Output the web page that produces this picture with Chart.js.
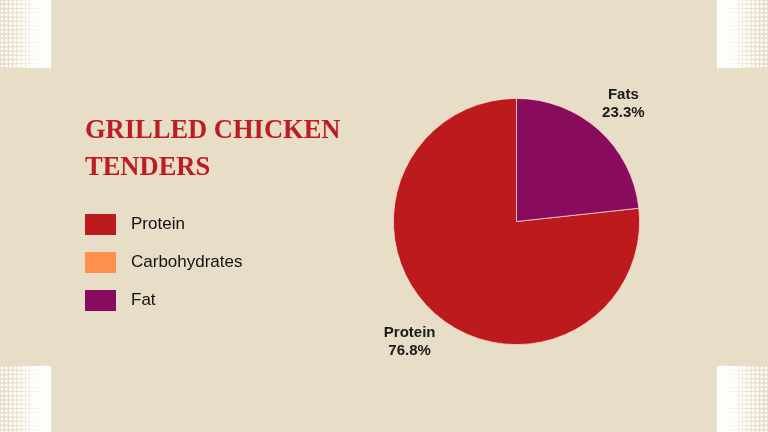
<!DOCTYPE html>
<html>
<head>
<meta charset="utf-8">
<script src="https://cdn.jsdelivr.net/npm/chart.js@4.4.1/dist/chart.umd.min.js"></script>
<style>
    html, body { margin: 0; padding: 0; }
    body { width: 768px; height: 432px; overflow: hidden; background: #e8ddc7; position: relative; }
    #pie { position: absolute; left: 0; top: 0; }
    #title {
        position: absolute; left: 85px; top: 111px; margin: 0;
        font-family: "Liberation Serif", "Times New Roman", serif; font-weight: bold;
        font-size: 26.5px; line-height: 37px; color: #bd1c22; letter-spacing: 0;
    }
    #legend { position: absolute; left: 85px; top: 214px; margin: 0; padding: 0; list-style: none; }
    #legend li { height: 21px; margin-bottom: 17px; position: relative; }
    #legend .box { position: absolute; left: 0; top: 0; width: 31px; height: 21px; }
    #legend .txt {
        position: absolute; left: 46px; top: -1px; white-space: nowrap;
        font-family: "Liberation Sans", Arial, sans-serif; font-size: 17px; line-height: 21px; color: #111;
    }
</style>
</head>
<body>
<canvas id="pie" width="768" height="432"></canvas>
<h1 id="title">GRILLED CHICKEN<br>TENDERS</h1>
<ul id="legend"></ul>
<script>
const categories = ['Protein', 'Carbohydrates', 'Fat'];
const sliceLabels = ['Protein', 'Carbohydrates', 'Fats'];
const values = [76.8, 0, 23.3];
const colors = ['#bd1a1d', '#ff914d', '#890b5d'];

// legend items
const legend = document.getElementById('legend');
categories.forEach((name, i) => {
    const li = document.createElement('li');
    li.innerHTML = `<span class="box" style="background:${colors[i]}"></span><span class="txt">${name}</span>`;
    legend.appendChild(li);
});

// halftone dots in the four corners
const cornerDots = {
    id: 'cornerDots',
    beforeDraw(chart) {
        const ctx = chart.ctx;
        const corners = [
            { x: 0, y: 0, w: 51, h: 66, fromLeft: true },
            { x: 717, y: 0, w: 51, h: 66, fromLeft: false },
            { x: 0, y: 366, w: 51, h: 66, fromLeft: true },
            { x: 717, y: 366, w: 51, h: 66, fromLeft: false }
        ];
        ctx.save();
        ctx.fillStyle = 'rgba(255,255,255,0.95)';
        corners.forEach(c => {
            const step = 4.25;
            for (let gx = 0; gx < c.w - 0.5; gx += step) {
                const t = c.fromLeft ? (gx + step) / c.w : 1 - gx / c.w;
                const s = Math.min(step + 0.3, 2.1 + 3.0 * t);
                for (let gy = 0; gy < c.h - 0.5; gy += step) {
                    ctx.fillRect(c.x + gx + (step - s) / 2, c.y + gy + (step - s) / 2, s, s);
                }
            }
        });
        ctx.restore();
    }
};

// labels outside the slices
const outsideLabels = {
    id: 'outsideLabels',
    afterDatasetsDraw(chart) {
        const ctx = chart.ctx;
        const meta = chart.getDatasetMeta(0);
        ctx.save();
        ctx.fillStyle = '#1a1a1a';
        ctx.font = 'bold 15px "Liberation Sans", Arial, sans-serif';
        ctx.textAlign = 'center';
        ctx.textBaseline = 'middle';
        meta.data.forEach((arc, i) => {
            if (!values[i]) return;
            const mid = (arc.startAngle + arc.endAngle) / 2;
            const r = arc.outerRadius * 1.3;
            const x = arc.x + Math.cos(mid) * r;
            const y = arc.y + Math.sin(mid) * r;
            ctx.fillText(sliceLabels[i], x, y - 8);
            ctx.fillText(values[i].toFixed(1) + '%', x, y + 10.5);
        });
        ctx.restore();
    }
};

const total = values.reduce((a, b) => a + b, 0);

new Chart(document.getElementById('pie').getContext('2d'), {
    type: 'pie',
    data: {
        labels: categories,
        datasets: [{
            data: values,
            backgroundColor: colors,
            borderColor: 'rgba(255,225,215,0.9)',
            borderWidth: 0.8
        }]
    },
    options: {
        responsive: false,
        animation: false,
        // protein starts where the fat slice (drawn last) ends, so fat begins at 12 o'clock
        rotation: values[2] / total * 360,
        layout: { padding: { left: 393, right: 128, top: 98, bottom: 87 } },
        plugins: {
            legend: { display: false },
            tooltip: { enabled: false }
        }
    },
    plugins: [cornerDots, outsideLabels]
});
</script>
</body>
</html>
